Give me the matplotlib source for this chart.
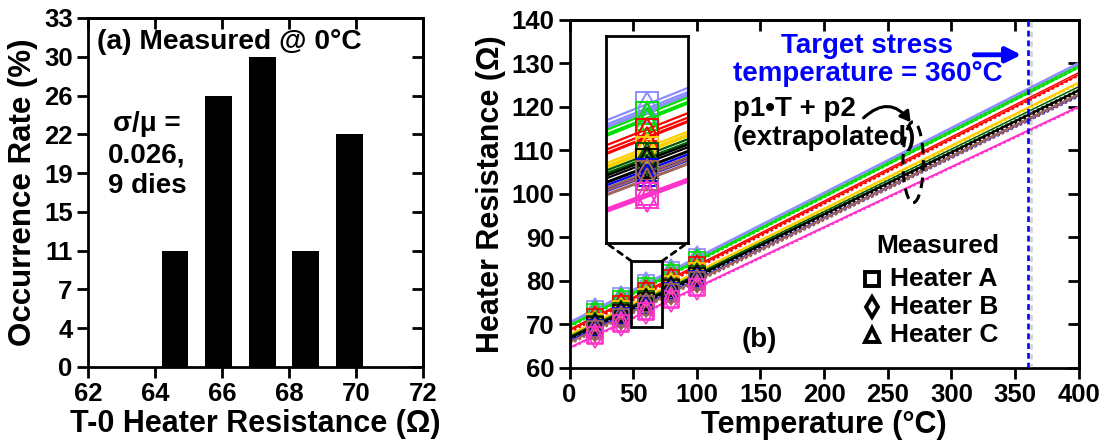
import numpy as np
import matplotlib
matplotlib.use("Agg")
import matplotlib.pyplot as plt
from matplotlib.patches import Rectangle, Ellipse, ConnectionPatch
import matplotlib.patheffects as pe

plt.rcParams["font.family"] = ["Liberation Sans", "DejaVu Sans"]
plt.rcParams["font.weight"] = "bold"
plt.rcParams["axes.labelweight"] = "bold"

# ---- (a) histogram of heater resistance at 0 degC (27 heaters, 9 dies) ----
hist_centers = [64.6, 65.9, 67.2, 68.5, 69.8]
hist_rates = [11.1, 25.9, 29.6, 11.1, 22.2]
rate_ticks = [0, 3.7, 7.4, 11.1, 14.8, 18.5, 22.2, 25.9, 29.6, 33.3]
rate_labels = ["0", "4", "7", "11", "15", "19", "22", "26", "30", "33"]
res_ticks = [62, 64, 66, 68, 70, 72]

# ---- (b) measured heater resistance vs temperature ----
temps = [20, 40, 60, 80, 100]
die_colors = ["#8C8CFF", "#00E000", "#FF0000", "#FFD000", "#005A00",
              "#000000", "#0000FF", "#A0665A", "#FF33CC"]
heater_a = [
    [73.6, 76.5, 79.6, 82.5, 85.5],
    [72.9, 75.8, 78.9, 81.8, 84.8],
    [71.8, 74.8, 77.7, 80.7, 83.6],
    [70.6, 73.5, 76.4, 79.3, 82.2],
    [70.1, 73.0, 75.9, 78.7, 81.6],
    [69.8, 72.6, 75.5, 78.3, 81.2],
    [69.1, 71.9, 74.8, 77.6, 80.4],
    [68.9, 71.7, 74.6, 77.4, 80.3],
    [67.5, 70.3, 73.0, 75.8, 78.6],
]
heater_b = [
    [73.3, 76.2, 79.3, 82.2, 85.2],
    [72.6, 75.6, 78.5, 81.5, 84.5],
    [71.5, 74.5, 77.4, 80.3, 83.3],
    [70.4, 73.3, 76.2, 79.1, 82.0],
    [70.0, 72.8, 75.6, 78.5, 81.3],
    [69.6, 72.4, 75.3, 78.1, 81.0],
    [68.9, 71.7, 74.5, 77.4, 80.2],
    [68.7, 71.5, 74.4, 77.2, 80.1],
    [67.4, 70.2, 72.9, 75.7, 78.5],
]
heater_c = [
    [73.1, 76.1, 79.0, 82.0, 85.0],
    [72.5, 75.4, 78.5, 81.4, 84.4],
    [71.2, 74.2, 77.1, 80.1, 83.0],
    [70.3, 73.2, 76.1, 79.0, 81.9],
    [69.8, 72.7, 75.5, 78.4, 81.2],
    [69.3, 72.1, 75.0, 77.8, 80.7],
    [68.7, 71.5, 74.4, 77.2, 80.0],
    [68.4, 71.2, 74.1, 76.9, 79.8],
    [67.3, 70.1, 72.8, 75.6, 78.4],
]
heater_markers = ["s", "d", "^"]
heater_names = ["Heater A", "Heater B", "Heater C"]
target_temp = 360
temp_ticks = list(range(0, 401, 50))
r_ticks = list(range(60, 141, 10))

fig = plt.figure(figsize=(11.13, 4.41), dpi=100)
ax1 = fig.add_axes([88 / 1113, 74 / 441, 335 / 1113, 349 / 441])
ax2 = fig.add_axes([569.6 / 1113, 73 / 441, 509 / 1113, 348 / 441])
axin = fig.add_axes([605.5 / 1113, (441 - 242.5) / 441, 82.5 / 1113, 206.5 / 441])

TICK_FS = 18.5
LABEL_FS = 22


def style_axes(ax, xticks, yticks, xlabels=None, ylabels=None):
    for s in ax.spines.values():
        s.set_linewidth(2.0)
    ax.set_xticks(xticks)
    ax.set_yticks(yticks)
    if xlabels is not None:
        ax.set_xticklabels(xlabels)
    if ylabels is not None:
        ax.set_yticklabels(ylabels)
    ax.tick_params(direction="out", length=8, width=2, labelsize=TICK_FS, pad=3)
    for lab in ax.get_xticklabels() + ax.get_yticklabels():
        lab.set_fontweight("bold")
    top = ax.secondary_xaxis("top")
    top.set_xticks(xticks)
    top.tick_params(direction="in", length=8, width=2, labeltop=False)
    top.spines["top"].set_linewidth(2.0)
    right = ax.secondary_yaxis("right")
    right.set_yticks(yticks)
    right.tick_params(direction="in", length=8, width=2, labelright=False)
    right.spines["right"].set_linewidth(2.0)


# ---------------- panel (a) ----------------
ax1.bar(hist_centers, hist_rates, width=0.8, color="black", edgecolor="none")
ax1.set_xlim(62, 72)
ax1.set_ylim(0, 33.3)
style_axes(ax1, res_ticks, rate_ticks, None, rate_labels)
ax1.set_xlabel("T-0 Heater Resistance (\u03a9)", fontsize=LABEL_FS, labelpad=2)
ax1.set_ylabel("Occurrence Rate (%)", fontsize=LABEL_FS + 0.5, labelpad=4)
ax1.text(0.027, 0.932, "(a) Measured @ 0\u00b0C", transform=ax1.transAxes,
         fontsize=20.3, fontweight="bold", ha="left", va="center")
ax1.text(0.176, 0.607, "\u03c3/\u03bc =\n0.026,\n9 dies", transform=ax1.transAxes,
         fontsize=20, fontweight="bold", ha="center", va="center", linespacing=1.25)

# ---------------- panel (b) ----------------
t_line = np.array([0.0, 400.0])
t_in = np.array([40.0, 80.0])
heaters = [heater_a, heater_b, heater_c]
for d, col in enumerate(die_colors):
    for h, data in enumerate(heaters):
        p1, p2 = np.polyfit(temps, data[d], 1)
        if h == 2:
            ls, lw, lwi = (0, (1, 1)), 1.8, 2.2
        else:
            ls, lw, lwi = "-", 1.1, 1.6
        ax2.plot(t_line, p1 * t_line + p2, color=col, lw=lw, ls=ls, zorder=2)
        axin.plot(t_in, p1 * t_in + p2, color=col, lw=lwi, ls="-", zorder=2)

for d, col in enumerate(die_colors):
    for h, data in enumerate(heaters):
        ax2.plot(temps, data[d], ls="none", marker=heater_markers[h], ms=12,
                 mfc="none", mec=col, mew=1.2, zorder=3)
        axin.plot(temps, data[d], ls="none", marker=heater_markers[h], ms=16,
                  mfc="none", mec=col, mew=1.4, zorder=3)

ax2.set_xlim(0, 400)
ax2.set_ylim(60, 140)
style_axes(ax2, temp_ticks, r_ticks)
ax2.set_xlabel("Temperature (\u00b0C)", fontsize=LABEL_FS, labelpad=2)
ax2.set_ylabel("Heater Resistance (\u03a9)", fontsize=LABEL_FS, labelpad=4)

# target stress temperature marker
ax2.axvline(target_temp, color="#0000FF", lw=1.9, ls=(0, (2.2, 1.5)), zorder=4,
            path_effects=[pe.SimpleLineShadow(offset=(2.5, -1), shadow_color="gray", alpha=0.35),
                          pe.Normal()])
ax2.text(234, 130.8, "Target stress\ntemperature = 360\u00b0C", color="#0000FF",
         fontsize=20, fontweight="bold", ha="center", va="center", linespacing=1.1)
ax2.annotate("", xy=(355, 132), xytext=(318, 132),
             arrowprops=dict(arrowstyle="-|>,head_length=0.9,head_width=0.45",
                             color="#0000FF", lw=3.5, shrinkA=0, shrinkB=0))

# fit annotation
ax2.text(128.5, 116.1, "p1\u2022T + p2\n(extrapolated)", color="black",
         fontsize=20, fontweight="bold", ha="left", va="center", linespacing=1.15)
ax2.annotate("", xy=(268, 116.5), xytext=(231, 117.5),
             arrowprops=dict(arrowstyle="-|>,head_length=0.6,head_width=0.35",
                             color="black", lw=2.2, shrinkA=0, shrinkB=0,
                             connectionstyle="arc3,rad=-0.55"))
ax2.add_patch(Ellipse((270, 107.3), 16, 18.6, fill=False, ec="black", lw=2.2,
                      ls=(0, (3.5, 2.2)), zorder=5))

# zoom box and inset
ax2.add_patch(Rectangle((48.5, 69.4), 24.3, 15.2, fill=False, ec="black", lw=2, zorder=5))
for xa, xb in [(48.5, 0.0), (72.8, 1.0)]:
    cp = ConnectionPatch(xyA=(xa, 84.6), coordsA=ax2.transData,
                         xyB=(xb, 0.0), coordsB=axin.transAxes,
                         color="black", lw=2, ls=(0, (2, 2)), zorder=5)
    fig.add_artist(cp)
axin.set_xlim(52, 68)
axin.set_ylim(69.5, 84.5)
axin.set_xticks([])
axin.set_yticks([])
for s in axin.spines.values():
    s.set_linewidth(2.0)

# marker key
ax2.text(0.723, 0.352, "Measured", transform=ax2.transAxes, fontsize=19,
         fontweight="bold", ha="center", va="center")
for i, (mk, name) in enumerate(zip(heater_markers, heater_names)):
    y = [0.257, 0.174, 0.0946][i]
    ax2.plot([0.594], [y], transform=ax2.transAxes, marker=mk, ms=10.5,
             mfc="none", mec="black", mew=2.8, ls="none", clip_on=False)
    ax2.text(0.630, y, name, transform=ax2.transAxes, fontsize=19,
             fontweight="bold", ha="left", va="center")
ax2.text(0.372, 0.080, "(b)", transform=ax2.transAxes, fontsize=20,
         fontweight="bold", ha="center", va="center")

fig.savefig("out.png", dpi=100)
